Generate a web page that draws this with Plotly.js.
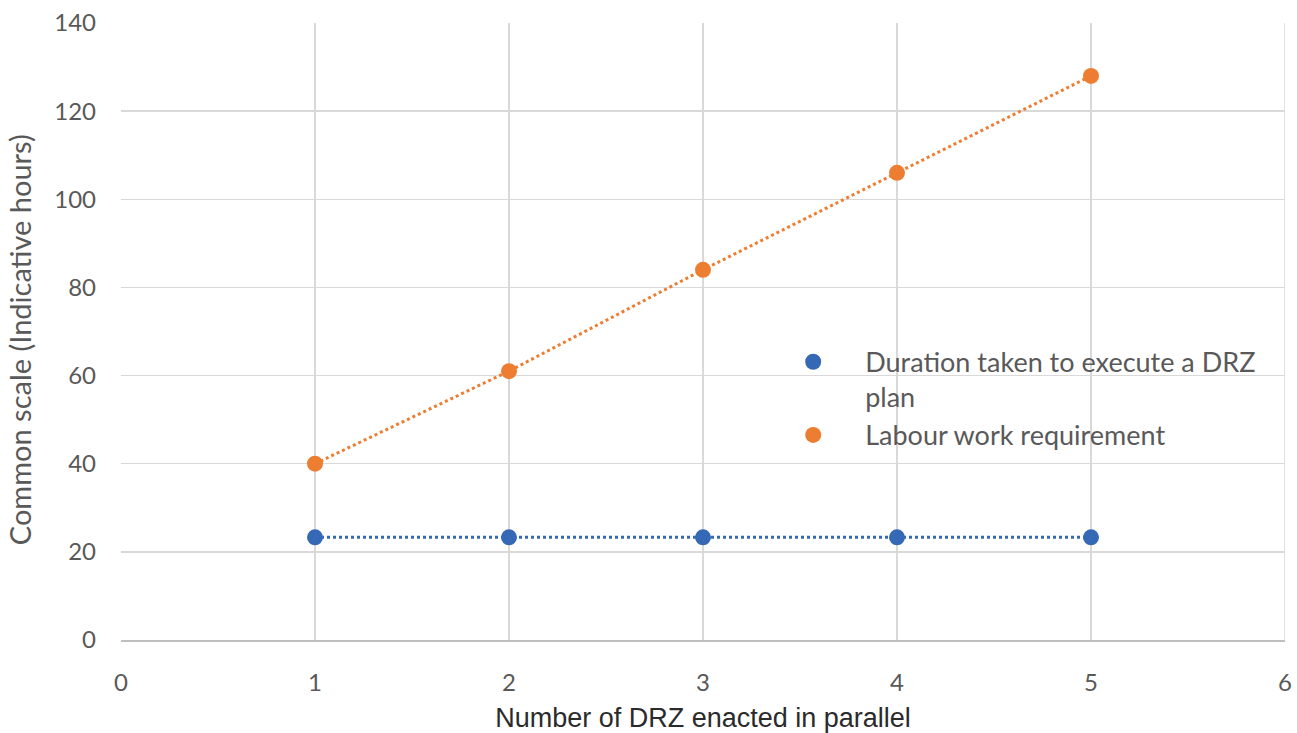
<!DOCTYPE html>
<html>
<head>
<meta charset="utf-8">
<script src="https://cdn.plot.ly/plotly-3.0.1.min.js"></script>
<style>
html,body{margin:0;padding:0;background:#fff;}
#chart{width:1297px;height:733px;}
</style>
</head>
<body>
<div id="chart"></div>
<script>
var drzCount = [1, 2, 3, 4, 5];
var durationHours = [23.3, 23.3, 23.3, 23.3, 23.3];
var labourHours = [40, 61, 84, 106, 128];
var seriesNames = ["Duration taken to execute a DRZ<br>plan", "Labour work requirement"];
var xTicks = [0, 1, 2, 3, 4, 5, 6];
var yTicks = [0, 20, 40, 60, 80, 100, 120, 140];
var xTitle = "Number of DRZ enacted in parallel";
var yTitle = "Common scale (Indicative hours)";

var blue = "#3569b5";
var orange = "#ed7d31";

var traces = [
  {x: drzCount, y: durationHours, mode: "lines", type: "scatter", showlegend: false,
   line: {color: blue, width: 3, dash: "dot"}, hoverinfo: "skip"},
  {x: drzCount, y: labourHours, mode: "lines", type: "scatter", showlegend: false,
   line: {color: orange, width: 3, dash: "dot"}, hoverinfo: "skip"},
  {x: drzCount, y: durationHours, mode: "markers", type: "scatter", name: seriesNames[0],
   marker: {color: blue, size: 16}},
  {x: drzCount, y: labourHours, mode: "markers", type: "scatter", name: seriesNames[1],
   marker: {color: orange, size: 16}}
];

var tickFont = {family: "Lato, 'Open Sans', sans-serif", size: 24, color: "#595959"};

var layout = {
  width: 1297, height: 733,
  margin: {l: 121, r: 12, t: 23, b: 93},
  paper_bgcolor: "#fff", plot_bgcolor: "#fff",
  xaxis: {
    range: [0, 6], tickvals: xTicks, ticktext: xTicks.map(String),
    showgrid: true, gridcolor: "#d9d9d9", gridwidth: 1.5,
    zeroline: false, showline: true, linecolor: "#bfbfbf", linewidth: 2,
    mirror: false, ticks: "", ticklabelstandoff: 20,
    tickfont: tickFont,
    title: {text: xTitle, standoff: 14,
      font: {family: "'Liberation Sans', Arial, sans-serif", size: 27, color: "#2b2b2b"}}
  },
  yaxis: {
    range: [0, 140], tickvals: yTicks, ticktext: yTicks.map(String),
    showgrid: true, gridcolor: "#d9d9d9", gridwidth: 1.5,
    zeroline: false, showline: false, ticks: "", ticklabelstandoff: 24,
    tickfont: tickFont
  },
  legend: {
    x: 0.55, y: 0.49, xanchor: "left", yanchor: "top", valign: "top",
    bgcolor: "rgba(0,0,0,0)", itemwidth: 94,
    font: {family: "Lato, 'Open Sans', sans-serif", size: 27, color: "#595959"}
  },
  annotations: [
    {text: yTitle, xref: "paper", yref: "paper", x: -0.0876, y: 0.486,
     xanchor: "center", yanchor: "middle", textangle: -90, showarrow: false,
     font: {family: "Lato, 'Open Sans', sans-serif", size: 29, color: "#595959"}}
  ],
  shapes: [
    {type: "line", xref: "x", yref: "y", x0: 6, x1: 6, y0: 0, y1: 140, line: {color: "#d9d9d9", width: 1.5}}
  ]
};

Plotly.newPlot("chart", traces, layout, {displayModeBar: false, staticPlot: true});
</script>
</body>
</html>
